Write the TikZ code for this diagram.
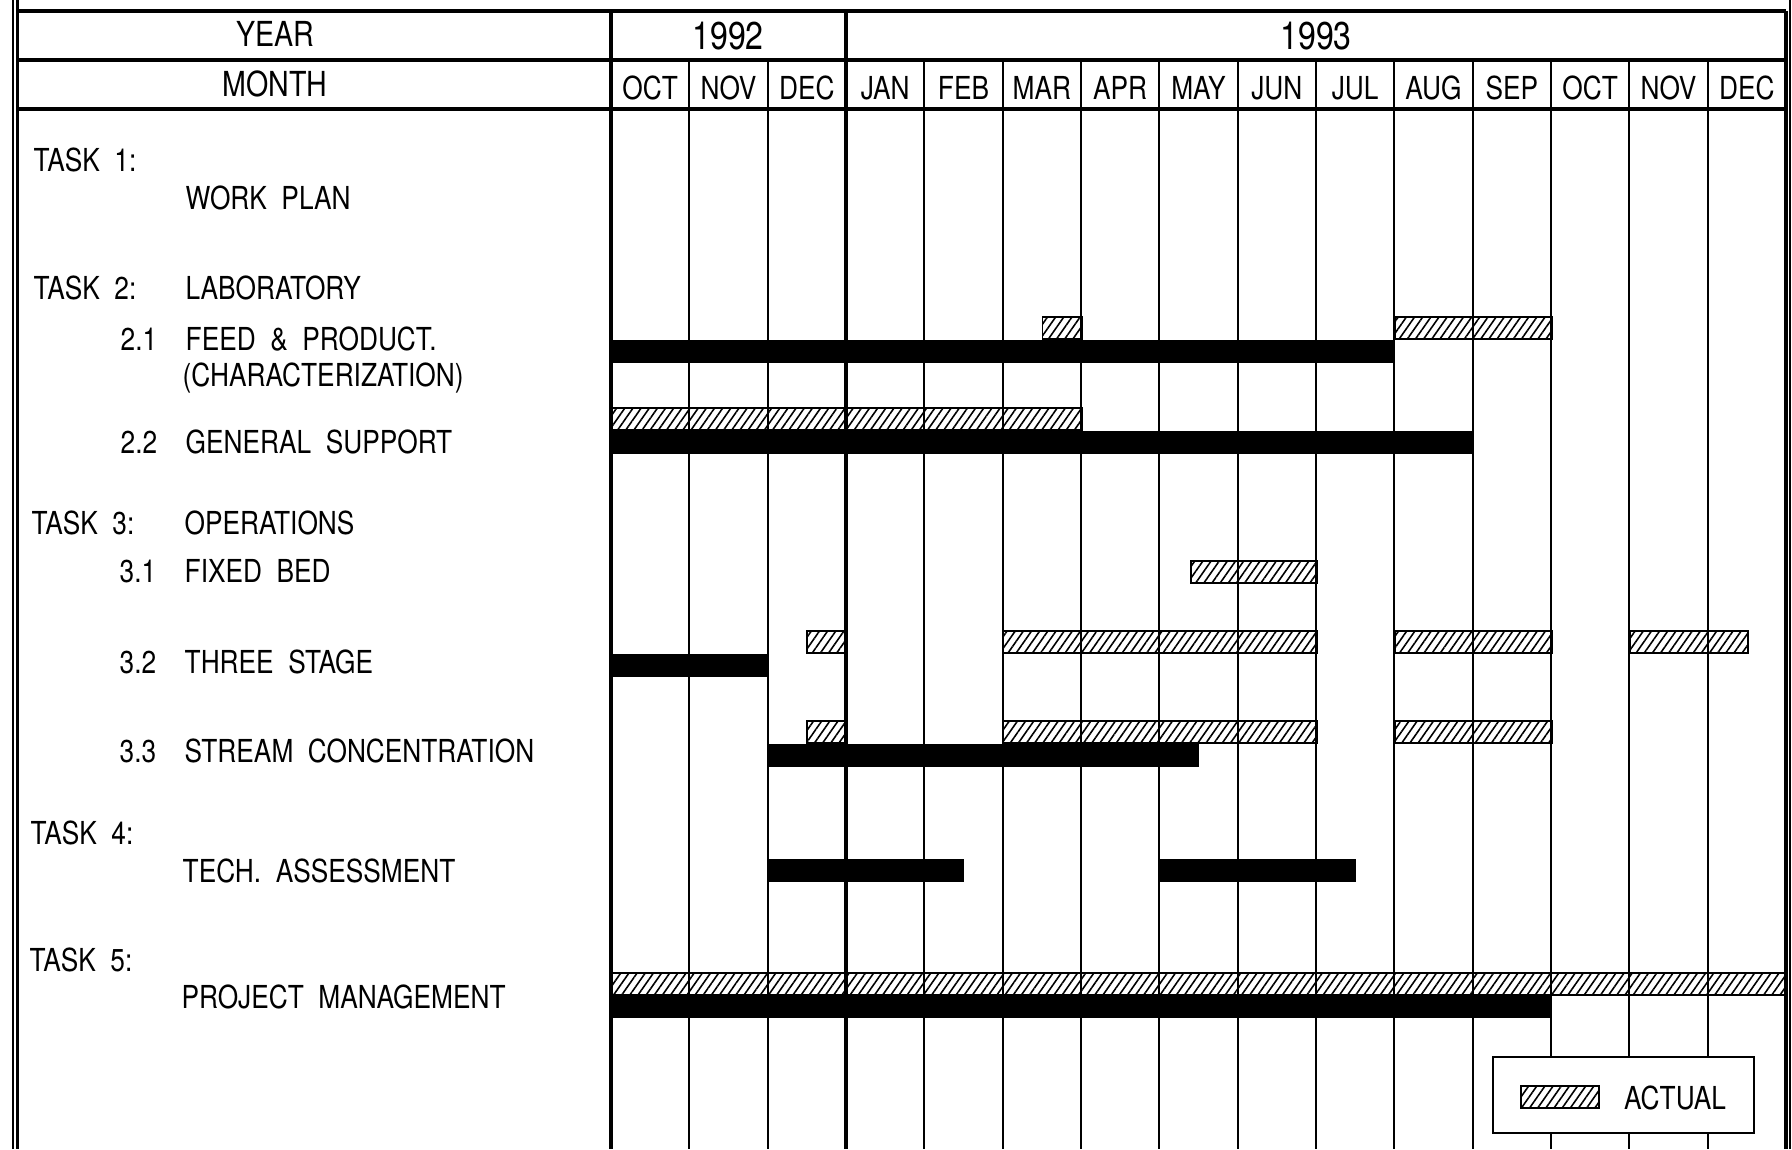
\documentclass[tikz,border=0pt]{standalone}
\usepackage{fontspec}
\setmainfont[FakeStretch=0.83,WordSpace=2]{TeX Gyre Heros}
\usetikzlibrary{patterns.meta}

\begin{document}
\begin{tikzpicture} [
            x=0.01cm, y=-0.01cm,
            every node/.style={font=\fontsize{9}{11}\selectfont},
            gridline/.style={line width=0.6pt},
            rule/.style={line width=1.1pt},
            frameline/.style={line width=0.7pt},
            plan/.style={fill=black},
            actual/.style={draw,line width=0.5pt,pattern={Lines[angle=55,distance=1.9pt,line width=0.45pt]}},
            lbl/.style={anchor=west,inner sep=0pt,text height=6.5pt,text depth=0pt},
            hdr/.style={inner sep=0pt,text height=6.5pt,text depth=0pt},
            yr/.style={inner sep=0pt,text height=8pt,text depth=0pt,font=\fontsize{11}{13}\selectfont},
        ]
        \useasboundingbox (0,0) rectangle (1792,1149);
        % frame and header rules
        \foreach \xx in {13,17.5,1790}
            \draw[frameline] (\xx,0) -- (\xx,1149);
        \foreach \yy in {11,60,109}
            \draw[rule] (17.5,\yy) -- (1786,\yy);
        \foreach \xx in {611,846,1786}
            \draw[rule] (\xx,11) -- (\xx,1149);
        \foreach \i in {1,2,4,5,...,14}
            \draw[gridline] ({611+\i*78.33},60) -- ({611+\i*78.33},1149);

        % header
        \node[hdr,font=\fontsize{9.8}{12}\selectfont] (year) at (275,35) {YEAR};
        \node[hdr,font=\fontsize{9.8}{12}\selectfont] (month) at (275,85) {MONTH};
        \node[yr] (y92) at (728,35) {1992};
        \node[yr] (y93) at (1316,35) {1993};
        \foreach \i/\name in {
                0/OCT,1/NOV,2/DEC,3/JAN,4/FEB,5/MAR,6/APR,7/MAY,
                8/JUN,9/JUL,10/AUG,11/SEP,12/OCT,13/NOV,14/DEC}
            \node[hdr] (m\i) at ({611+(\i+0.5)*78.33},88) {\name};

        % task labels
        \foreach \pos/\name/\txt in {
                {(33,160)/tA/TASK 1:}, {(185,198)/wp/WORK PLAN},
                {(33,288)/tB/TASK 2:}, {(185,288)/lab/LABORATORY},
                {(120,339)/nA/2.1}, {(185,339)/feed/FEED \& PRODUCT.},
                {(182,375)/charz/(CHARACTERIZATION)},
                {(120,442)/nB/2.2}, {(185,442)/gen/GENERAL SUPPORT},
                {(31,523)/tC/TASK 3:}, {(184,523)/ops/OPERATIONS},
                {(119,571)/nC/3.1}, {(184,571)/fixed/FIXED BED},
                {(119,662)/nD/3.2}, {(184,662)/three/THREE STAGE},
                {(119,751)/nE/3.3}, {(184,751)/stream/STREAM CONCENTRATION},
                {(30,833)/tD/TASK 4:}, {(182,871)/tech/TECH. ASSESSMENT},
                {(29,960)/tE/TASK 5:}, {(181,997)/pm/PROJECT MANAGEMENT}}
            \node[lbl] (\name) at \pos {\txt};

        % bars, x in months from OCT 1992
        \begin{scope}[xshift=6.11cm, x=0.7833cm]
            \foreach \a/\b/\ya in {
                    0/10/340, 0/11/431, 0/2/654, 2/7.5/744,
                    2/4.5/859, 7/9.5/859, 0/12/995}
                \path[plan] (\a,\ya) rectangle (\b,\ya+23);
            \foreach \a/\b/\ya in {
                    5.5/6/317, 10/12/317, 0/6/408, 7.4/9/561,
                    2.5/3/631, 5/9/631, 10/12/631, 13/14.5/631,
                    2.5/3/721, 5/9/721, 10/12/721, 0/15/973}
                \path[actual] (\a,\ya) rectangle (\b,\ya+22);
        \end{scope}

        % legend
        \draw[gridline,fill=white] (1493,1057) rectangle (1754,1133);
        \path[actual] (1521,1086) rectangle (1599,1108);
        \node[hdr] (legtext) at (1675,1098) {ACTUAL};
    \end{tikzpicture}
\end{document}
